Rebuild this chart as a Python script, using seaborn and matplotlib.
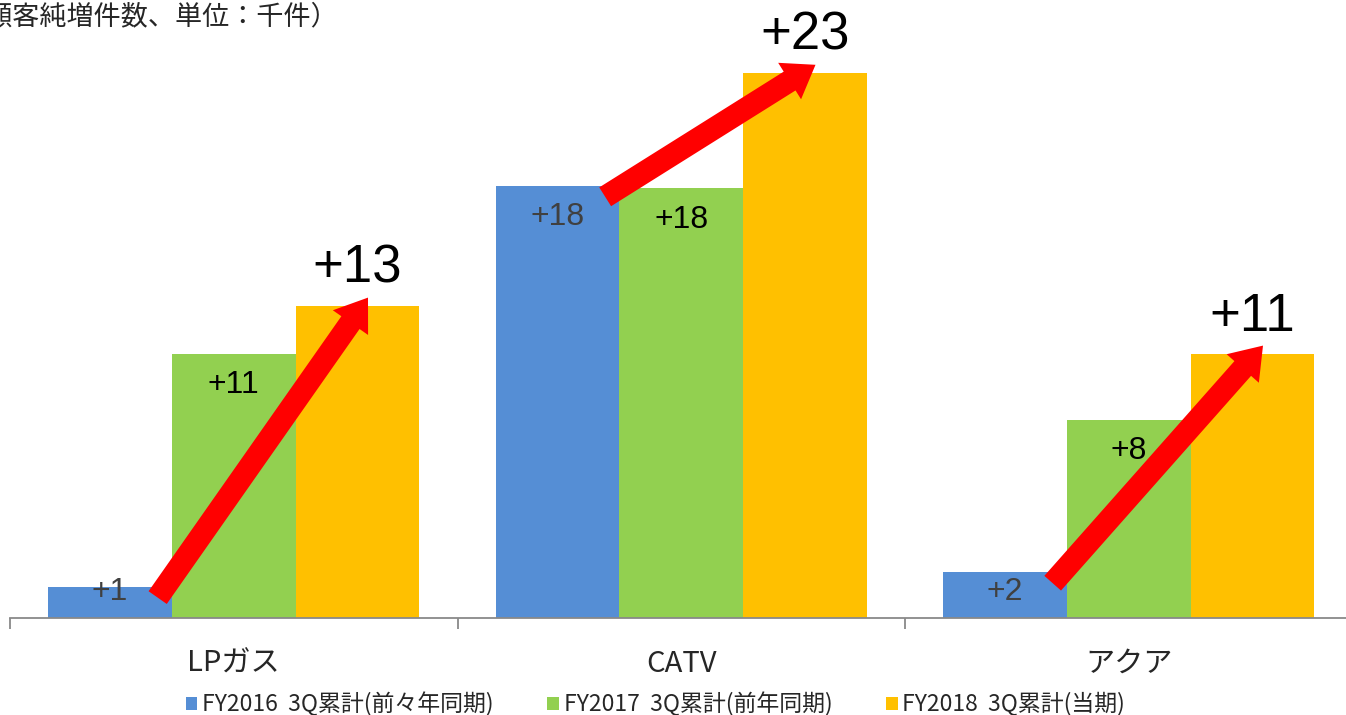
import pandas as pd
import seaborn as sns
import matplotlib.pyplot as plt

# データ（千件）
categories = ['LPガス', 'CATV', 'アクア']
periods = ['FY2016  3Q累計(前々年同期)', 'FY2017  3Q累計(前年同期)', 'FY2018  3Q累計(当期)']
fy2016 = [1.3, 18.0, 1.9]
fy2017 = [11.0, 17.9, 8.25]
fy2018 = [13.0, 22.7, 11.0]
labels_2016 = ['+1', '+18', '+2']
labels_2017 = ['+11', '+18', '+8']
labels_2018 = ['+13', '+23', '+11']
colors = ['#558ED5', '#92D050', '#FFC000']

df = pd.DataFrame({
    'category': categories * 3,
    'period': [periods[0]] * 3 + [periods[1]] * 3 + [periods[2]] * 3,
    'value': fy2016 + fy2017 + fy2018,
})

sns.set_style('white')
plt.rcParams['font.family'] = ['Liberation Sans', 'Noto Sans CJK JP']

fig = plt.figure(figsize=(13.46, 7.15), dpi=100)
ax = fig.add_axes([10 / 1346, 1 - 618 / 715, 1342.5 / 1346, 600 / 715])

sns.barplot(data=df, x='category', y='value', hue='period', palette=colors,
            width=0.83, saturation=1, linewidth=0, ax=ax)

handles, labels = ax.get_legend_handles_labels()
ax.get_legend().remove()

ax.set_ylim(0, 25)
ax.set_xlim(-0.5, 2.5)
bw = 0.83 / 3

# バー内ラベル
for i in range(3):
    ax.text(i - bw, max(fy2016[i] - 1.3, 1.1), labels_2016[i], ha='center', va='center',
            fontsize=23, color='#404040')
    ax.text(i, fy2017[i] - 1.3, labels_2017[i], ha='center', va='center',
            fontsize=23, color='black')
    ax.text(i + bw, fy2018[i] + 1.55, labels_2018[i], ha='center', va='center',
            fontsize=38, color='black')
    # 赤い矢印
    ax.annotate('', xy=(i + 0.3, fy2018[i] + 0.35), xytext=(i - 0.17, fy2016[i] - 0.45),
                arrowprops=dict(arrowstyle='simple,head_length=2.2,head_width=3.1,tail_width=1.6',
                                mutation_scale=10, color='red', lw=0, shrinkA=0, shrinkB=0),
                zorder=5)

# 軸
sns.despine(ax=ax, left=True, top=True, right=True)
ax.spines['bottom'].set_color('#898989')
ax.spines['bottom'].set_linewidth(1.3)
ax.set_yticks([])
ax.set_xticks(range(3))
ax.set_xticklabels(categories, fontsize=21, family=['Noto Sans CJK JP'])
ax.set_xticks([-0.5, 0.5, 1.5, 2.5], minor=True)
ax.tick_params(axis='x', which='major', length=0, pad=22)
ax.tick_params(axis='x', which='minor', bottom=True, length=8, width=1.3,
               color='#898989', direction='out')
ax.set_xlabel('')
ax.set_ylabel('')

fig.text(-42 / 1346, 1 - 17 / 715, '（顧客純増件数、単位：千件）', fontsize=19.5,
         family=['Noto Sans CJK JP'], va='center', ha='left')

fig.legend(handles, labels, loc='center', bbox_to_anchor=(0.487, 1 - 704 / 715), ncol=3,
           frameon=False, handlelength=0.5, handleheight=0.5,
           handletextpad=0.2, columnspacing=2.35,
           prop={'family': ['Liberation Sans Narrow', 'Noto Sans CJK JP'], 'size': 16.5})

fig.savefig('out.png', dpi=100)
